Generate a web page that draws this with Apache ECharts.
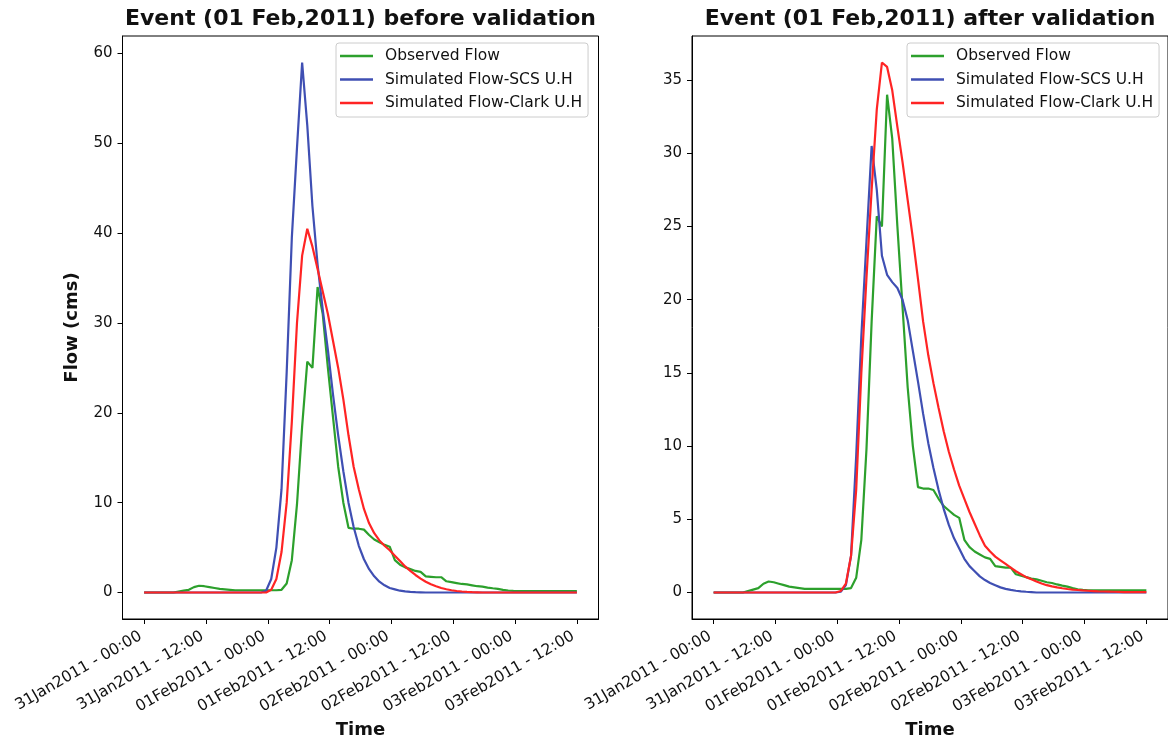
<!DOCTYPE html>
<html>
<head>
<meta charset="utf-8">
<script src="https://cdn.jsdelivr.net/npm/echarts@6/dist/echarts.min.js"></script>
<style>
html,body{margin:0;padding:0;background:#fff;}
#chart{width:1168px;height:737px;}
</style>
</head>
<body>
<div id="chart"></div>
<script>
// hours since 31Jan2011 00:00 at which the hydrographs are sampled
const sampleHours = [0].concat(Array.from({length: 84}, (_, k) => k + 0.67), [84]);

const tickHours = [0, 12, 24, 36, 48, 60, 72, 84];
const tickLabels = ['31Jan2011 - 00:00', '31Jan2011 - 12:00', '01Feb2011 - 00:00', '01Feb2011 - 12:00',
                    '02Feb2011 - 00:00', '02Feb2011 - 12:00', '03Feb2011 - 00:00', '03Feb2011 - 12:00'];
const yTicksBefore = [0, 10, 20, 30, 40, 50, 60];
const yTicksAfter = [0, 5, 10, 15, 20, 25, 30, 35];

const titles = ['Event (01 Feb,2011) before validation', 'Event (01 Feb,2011) after validation'];
const seriesNames = ['Observed Flow', 'Simulated Flow-SCS U.H', 'Simulated Flow-Clark U.H'];

const observedFlow = [
  0, 0, 0, 0, 0, 0, 0, 0.1, 0.2, 0.3,
  0.6, 0.75, 0.7, 0.6, 0.5, 0.4, 0.35, 0.3, 0.25, 0.25,
  0.25, 0.25, 0.25, 0.25, 0.25, 0.25, 0.25, 0.3, 1.0, 3.6,
  9.8, 18.5, 25.7, 25.0, 34.0, 31.0, 25.0, 19.5, 14.0, 10.0,
  7.2, 7.1, 7.1, 7.0, 6.4, 5.9, 5.6, 5.3, 5.1, 3.6,
  3.1, 2.8, 2.6, 2.4, 2.3, 1.8, 1.75, 1.7, 1.7, 1.25,
  1.15, 1.05, 0.95, 0.9, 0.8, 0.7, 0.65, 0.55, 0.47, 0.4,
  0.3, 0.22, 0.18, 0.15, 0.15, 0.15, 0.15, 0.15, 0.15, 0.15,
  0.15, 0.15, 0.15, 0.15, 0.15, 0.15
];

const scsBefore = [
  0, 0, 0, 0, 0, 0, 0, 0, 0, 0,
  0, 0, 0, 0, 0, 0, 0, 0, 0, 0,
  0, 0, 0, 0, 0.2, 1.5, 5.0, 11.5, 24.5, 39.5,
  49.5, 59.0, 52.0, 43.0, 36.5, 31.5, 27.0, 22.0, 17.5, 13.5,
  10.0, 7.3, 5.2, 3.7, 2.6, 1.8, 1.2, 0.8, 0.5, 0.35,
  0.2, 0.12, 0.07, 0.04, 0.02, 0, 0, 0, 0, 0,
  0, 0, 0, 0, 0, 0, 0, 0, 0, 0,
  0, 0, 0, 0, 0, 0, 0, 0, 0, 0,
  0, 0, 0, 0, 0, 0
];

const clarkBefore = [
  0, 0, 0, 0, 0, 0, 0, 0, 0, 0,
  0, 0, 0, 0, 0, 0, 0, 0, 0, 0,
  0, 0, 0, 0, 0, 0.3, 1.5, 4.5, 10.0, 19.0,
  30.0, 37.5, 40.5, 38.5, 36.0, 33.5, 31.0, 28.0, 25.0, 21.5,
  17.5, 14.0, 11.5, 9.3, 7.7, 6.6, 5.8, 5.2, 4.7, 4.1,
  3.5, 2.9, 2.4, 1.95, 1.55, 1.2, 0.92, 0.7, 0.5, 0.36,
  0.25, 0.17, 0.11, 0.07, 0.04, 0.02, 0, 0, 0, 0,
  0, 0, 0, 0, 0, 0, 0, 0, 0, 0,
  0, 0, 0, 0, 0, 0
];

const scsAfter = [
  0, 0, 0, 0, 0, 0, 0, 0, 0, 0,
  0, 0, 0, 0, 0, 0, 0, 0, 0, 0,
  0, 0, 0, 0, 0, 0.05, 0.5, 2.5, 9.3, 17.5,
  24.0, 30.5, 27.5, 23.0, 21.7, 21.2, 20.8, 20.0, 18.6, 16.5,
  14.4, 12.2, 10.2, 8.5, 7.0, 5.7, 4.6, 3.7, 3.0, 2.3,
  1.8, 1.45, 1.1, 0.85, 0.65, 0.5, 0.35, 0.25, 0.18, 0.12,
  0.08, 0.05, 0.03, 0, 0, 0, 0, 0, 0, 0,
  0, 0, 0, 0, 0, 0, 0, 0, 0, 0,
  0, 0, 0, 0, 0, 0
];

const clarkAfter = [
  0, 0, 0, 0, 0, 0, 0, 0, 0, 0,
  0, 0, 0, 0, 0, 0, 0, 0, 0, 0,
  0, 0, 0, 0, 0, 0.1, 0.6, 2.5, 7.0, 15.0,
  21.5, 27.5, 33.0, 36.2, 35.9, 34.3, 31.8, 29.4, 26.8, 24.2,
  21.4, 18.5, 16.2, 14.3, 12.6, 11.0, 9.6, 8.4, 7.3, 6.4,
  5.5, 4.7, 3.9, 3.2, 2.8, 2.45, 2.2, 1.95, 1.7, 1.45,
  1.25, 1.05, 0.9, 0.75, 0.62, 0.5, 0.42, 0.35, 0.29, 0.24,
  0.2, 0.17, 0.14, 0.12, 0.1, 0.08, 0.07, 0.06, 0.05, 0.04,
  0.03, 0.03, 0.02, 0.02, 0.02, 0.02
];

const colors = ['#2ca02c', '#3f4fb3', '#ff2424'];
const FONT = 'DejaVu Sans';
const TXT = '#111';

function pairs(vals) { return sampleHours.map((h, i) => [h, vals[i]]); }

const panels = [
  {left: 122.5, yMin: -2.95, yMax: 61.95, yTicks: yTicksBefore, data: [observedFlow, scsBefore, clarkBefore], legendLeft: 336},
  {left: 692, yMin: -1.81, yMax: 38.01, yTicks: yTicksAfter, data: [observedFlow, scsAfter, clarkAfter], legendLeft: 907}
];
const W = 476, TOP = 36, H = 583;

const option = {
  animation: false,
  backgroundColor: '#fff',
  title: panels.map((p, i) => ({
    text: titles[i], left: p.left + W / 2, top: 8, padding: 0, textAlign: 'center',
    textStyle: {fontFamily: FONT, fontSize: 22, fontWeight: 'bold', color: TXT}
  })),
  legend: panels.map((p) => ({
    data: seriesNames, orient: 'vertical', left: p.legendLeft, top: 43,
    padding: [5, 6, 6, 4], itemGap: 7.5, itemWidth: 33, itemHeight: 2.5, icon: 'rect',
    backgroundColor: 'rgba(255,255,255,0.8)', borderColor: '#cccccc', borderWidth: 1, borderRadius: 3,
    selectedMode: false,
    textStyle: {fontFamily: FONT, fontSize: 15.5, lineHeight: 15, color: TXT, padding: [0, 0, 0, 7]}
  })),
  grid: panels.map((p) => ({
    left: p.left, top: TOP, width: W, height: H, show: true,
    outerBoundsMode: 'none',
    borderColor: '#000', borderWidth: 1, backgroundColor: 'transparent', containLabel: false
  })),
  xAxis: panels.map((p, i) => ({
    type: 'value', gridIndex: i, min: -4.2, max: 88.2,
    name: 'Time', nameLocation: 'middle', nameGap: 97,
    nameTextStyle: {fontFamily: FONT, fontSize: 18, fontWeight: 'bold', color: TXT},
    splitLine: {show: false},
    axisLine: {show: true, onZero: false, lineStyle: {color: '#000', width: 1}},
    axisTick: {show: true, customValues: tickHours, length: 5, lineStyle: {color: '#000', width: 1}},
    axisLabel: {
      customValues: tickHours, rotate: 30, margin: 14, padding: [0, 4, 0, 0],
      fontFamily: FONT, fontSize: 15.5, color: TXT,
      formatter: (v) => { const k = tickHours.indexOf(v); return k >= 0 ? tickLabels[k] : ''; }
    }
  })),
  yAxis: panels.map((p, i) => ({
    type: 'value', gridIndex: i, min: p.yMin, max: p.yMax,
    name: i === 0 ? 'Flow (cms)' : '', nameLocation: 'middle', nameGap: 41,
    nameTextStyle: {fontFamily: FONT, fontSize: 18, fontWeight: 'bold', color: TXT},
    splitLine: {show: false},
    axisLine: {show: true, onZero: false, lineStyle: {color: '#000', width: 1}},
    axisTick: {show: true, customValues: p.yTicks, length: 5, lineStyle: {color: '#000', width: 1}},
    axisLabel: {customValues: p.yTicks, margin: 10, fontFamily: FONT, fontSize: 15, color: TXT,
      formatter: (v) => String(v)}
  })),
  series: []
};

panels.forEach((p, gi) => {
  p.data.forEach((vals, si) => {
    option.series.push({
      type: 'line', name: seriesNames[si], xAxisIndex: gi, yAxisIndex: gi,
      data: pairs(vals), showSymbol: false, symbol: 'none', smooth: false,
      lineStyle: {color: colors[si], width: 2.2}, itemStyle: {color: colors[si]},
      emphasis: {disabled: true}, silent: true
    });
  });
});

const chart = echarts.init(document.getElementById('chart'), null, {renderer: 'canvas'});
chart.setOption(option);
</script>
</body>
</html>
